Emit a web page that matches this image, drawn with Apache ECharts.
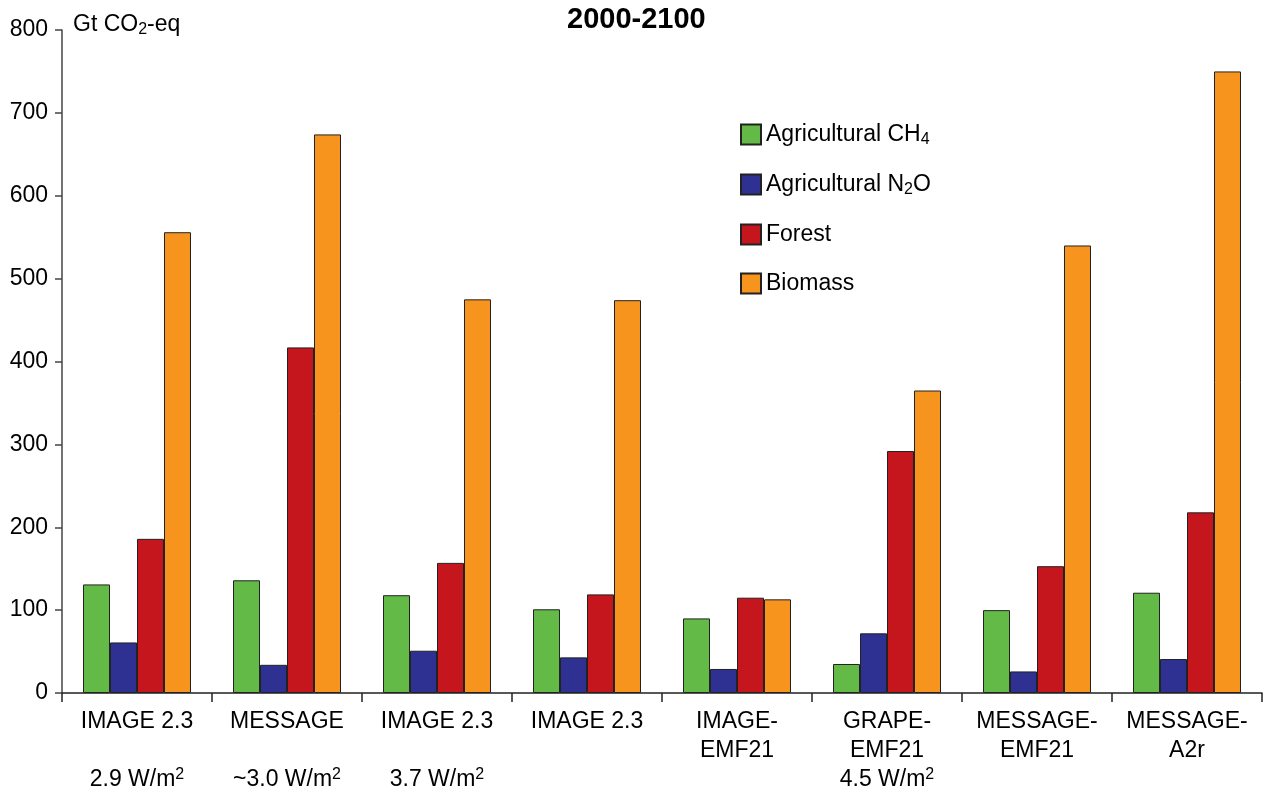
<!DOCTYPE html>
<html>
<head>
<meta charset="utf-8">
<script src="https://cdn.jsdelivr.net/npm/echarts@6/dist/echarts.min.js"></script>
<style>
html,body{margin:0;padding:0;background:#fff;}
#chart{width:1264px;height:795px;}
</style>
</head>
<body>
<div id="chart"></div>
<script>
const categories = [
  'IMAGE 2.3\n\n2.9 W/m{sup|2}',
  'MESSAGE\n\n~3.0 W/m{sup|2}',
  'IMAGE 2.3\n\n3.7 W/m{sup|2}',
  'IMAGE 2.3\n\n',
  'IMAGE-\nEMF21\n',
  'GRAPE-\nEMF21\n4.5 W/m{sup|2}',
  'MESSAGE-\nEMF21\n',
  'MESSAGE-\nA2r\n'
];
const seriesNames = ['Agricultural CH4', 'Agricultural N2O', 'Forest', 'Biomass'];
const agriCH4 = [131, 136, 118, 101, 90, 35, 100, 121];
const agriN2O = [61, 34, 51, 43, 29, 72, 26, 41];
const forest = [186, 417, 157, 119, 115, 292, 153, 218];
const biomass = [556, 674, 475, 474, 113, 365, 540, 750];
const yTicks = [0, 100, 200, 300, 400, 500, 600, 700, 800];

const colors = ['#63ba47', '#2e3192', '#c4161c', '#f7941d'];
const values = [agriCH4, agriN2O, forest, biomass];
const FONT = 'Liberation Sans, Arial, sans-serif';

const chart = echarts.init(document.getElementById('chart'));
const legendLabels = {
  'Agricultural CH4': 'Agricultural CH{sub|4}',
  'Agricultural N2O': 'Agricultural N{sub|2}O',
  'Forest': 'Forest',
  'Biomass': 'Biomass'
};
chart.setOption({
  animation: false,
  backgroundColor: '#fff',
  textStyle: { fontFamily: FONT },
  title: {
    text: '2000-2100',
    left: 567,
    top: 5,
    padding: 0,
    textStyle: { fontFamily: FONT, fontSize: 29, fontWeight: 'bold', color: '#000' }
  },
  legend: {
    orient: 'vertical',
    left: 735,
    top: 117,
    itemWidth: 20,
    itemHeight: 20,
    itemGap: 24,
    icon: 'rect',
    data: seriesNames,
    formatter: n => legendLabels[n],
    textStyle: {
      fontFamily: FONT, fontSize: 23, color: '#000', lineHeight: 25,
      rich: { sub: { fontFamily: FONT, fontSize: 16, color: '#000', padding: [11, 0, 0, 0] } }
    }
  },
  grid: { left: 62, right: 2, top: 30, bottom: 102, containLabel: false },
  xAxis: {
    type: 'category',
    data: categories,
    axisLine: { lineStyle: { color: '#222', width: 1.5 } },
    axisTick: { show: true, length: 9, lineStyle: { color: '#222', width: 1.5 } },
    axisLabel: {
      interval: 0,
      margin: 14,
      fontFamily: FONT,
      fontSize: 23,
      lineHeight: 29,
      color: '#000',
      rich: {
        sup: { fontFamily: FONT, fontSize: 16, color: '#000', padding: [0, 0, 9, 0] }
      }
    }
  },
  yAxis: {
    type: 'value',
    min: 0, max: 800, interval: 100,
    name: 'Gt CO{sub|2}-eq',
    nameLocation: 'end',
    nameGap: 5,
    nameTextStyle: {
      fontFamily: FONT, fontSize: 23, color: '#000', align: 'left', verticalAlign: 'middle',
      padding: [0, 0, 0, 11],
      rich: { sub: { fontFamily: FONT, fontSize: 16, color: '#000', padding: [9, 0, 0, 0] } }
    },
    splitLine: { show: false },
    axisLine: { show: true, lineStyle: { color: '#444', width: 1.5 } },
    axisTick: { show: true, length: 7, lineStyle: { color: '#444', width: 1.5 } },
    axisLabel: {
      margin: 14, fontFamily: FONT, fontSize: 23, color: '#000',
      formatter: v => yTicks.includes(v) ? String(v) : ''
    }
  },
  series: seriesNames.map((name, i) => ({
    name,
    type: 'bar',
    data: values[i],
    barWidth: 27,
    barGap: '0%',
    itemStyle: { color: colors[i], borderColor: '#222', borderWidth: 1 }
  }))
});
</script>
</body>
</html>
